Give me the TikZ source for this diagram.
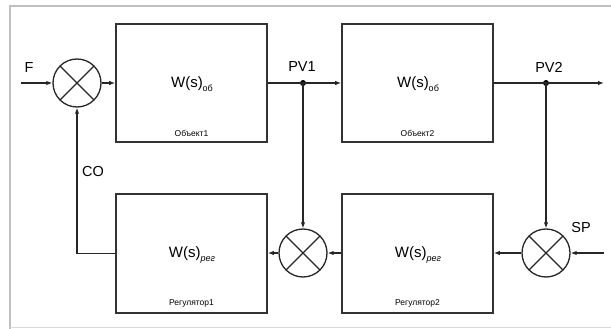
\documentclass[tikz,border=0pt]{standalone}
\usepackage{fontspec}
\setmainfont{Liberation Sans}
\usetikzlibrary{arrows.meta}
\begin{document}
\begin{tikzpicture}[x=1pt,y=-1pt,
  blk/.style={draw=black!80,line width=1.7pt,fill=white,minimum width=151pt,minimum height=118pt,inner sep=0pt},
  summer/.style={draw=black!85,line width=1.3pt,circle,minimum size=48pt,inner sep=0pt,
    path picture={\draw[black!85,line width=1.3pt] (path picture bounding box.north west)--(path picture bounding box.south east)
      (path picture bounding box.north east)--(path picture bounding box.south west);}},
  wire/.style={draw=black!85,line width=1.3pt},
  arr/.style={wire,-{Latex[length=6pt,width=4.5pt]}},
  dot/.style={circle,fill=black,inner sep=0pt,minimum size=6pt},
  lbl/.style={font=\fontsize{14.5}{15}\selectfont,inner sep=0pt},
  wlbl/.style={font=\fontsize{15}{15}\selectfont,inner sep=0pt},
  slbl/.style={font=\fontsize{8.5}{9}\selectfont,inner sep=0pt}]
\useasboundingbox (0,0) rectangle (611,329);
\fill[white] (0,0) rectangle (611,329);
\draw[black!25,line width=2pt] (10,329) -- (10,6) -- (611,6);
\draw[black!15,line width=1pt] (10,327.5) -- (611,327.5);
% blocks
\node[blk] (b1) at (191.5,83) {};
\node[blk] (b2) at (417.5,83) {};
\node[blk,minimum height=119pt] (b3) at (191.5,253.5) {};
\node[blk,minimum height=119pt] (b4) at (417.5,253.5) {};
\node[wlbl] (w1) at (192,84) {W(s)\raisebox{-0.45ex}{\fontsize{9}{9}\selectfont об}};
\node[wlbl] (w2) at (418,84) {W(s)\raisebox{-0.45ex}{\fontsize{9}{9}\selectfont об}};
\node[wlbl] (w3) at (192,255) {W(s)\raisebox{-0.45ex}{\fontsize{9}{9}\selectfont\itshape рег}};
\node[wlbl] (w4) at (418,255) {W(s)\raisebox{-0.45ex}{\fontsize{9}{9}\selectfont\itshape рег}};
\node[slbl] (t1) at (191.5,133) {Объект1};
\node[slbl] (t2) at (417.5,133) {Объект2};
\node[slbl] (t3) at (191.5,303) {Регулятор1};
\node[slbl] (t4) at (417.5,303) {Регулятор2};
% summers
\node[summer] (s1) at (77,83) {};
\node[summer] (s3) at (303,253) {};
\node[summer] (s4) at (546,253) {};
% junctions and ends
\node[dot] (j1) at (303,83) {};
\node[dot] (j2) at (546,83) {};
\coordinate (fin) at (21,83);
\coordinate (out) at (604,83);
\coordinate (spin) at (604,253);
% labels
\node[lbl] (lf) at (29,68) {F};
\node[lbl] (lpv1) at (302,67) {PV1};
\node[lbl] (lpv2) at (549,67) {PV2};
\node[lbl] (lco) at (93,172) {CO};
\node[lbl] (lsp) at (581,228) {SP};
% connectors
\draw[arr] (fin) -- (s1.west);
\draw[arr] (s1.east) -- (b1.west);
\draw[wire] (b1.east) -- (j1.center);
\draw[arr] (j1.center) -- (b2.west);
\draw[wire] (b2.east) -- (j2.center);
\draw[arr] (j2.center) -- (out);
\draw[arr] (j1.center) -- (s3.north);
\draw[arr] (j2.center) -- (s4.north);
\draw[arr] (spin) -- (s4.east);
\draw[arr] (s4.west) -- (s4.west -| b4.east);
\draw[arr] (b4.west |- s3.east) -- (s3.east);
\draw[arr] (s3.west) -- (s3.west -| b3.east);
\draw[arr] (b3.west) -| (s1.south);
\end{tikzpicture}
\end{document}
